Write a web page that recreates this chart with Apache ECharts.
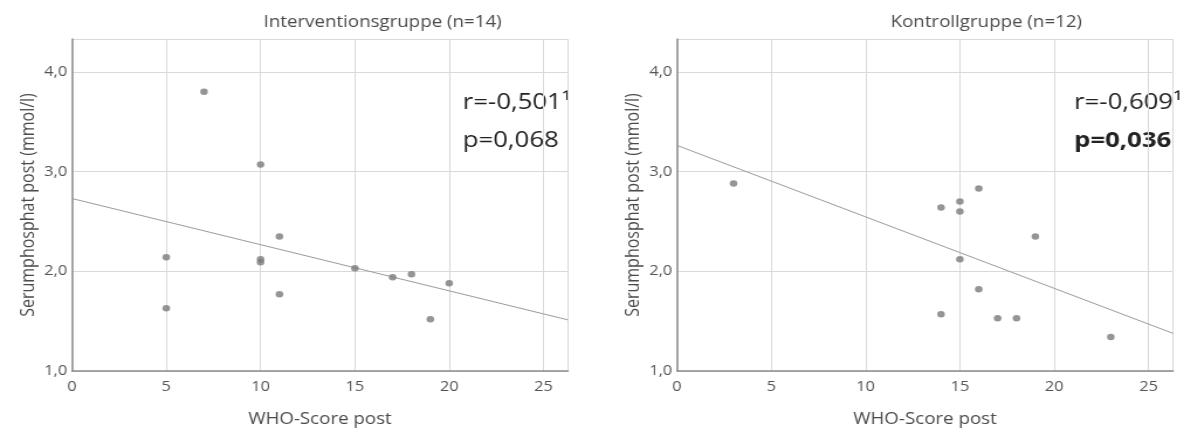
<!DOCTYPE html>
<html>
<head>
<meta charset="utf-8">
<script src="https://cdn.jsdelivr.net/npm/echarts@6/dist/echarts.min.js"></script>
<style>
html,body{margin:0;padding:0;background:#fff;overflow:hidden}
#wrap{width:1191px;height:432px;overflow:hidden}
#c{width:1018px;height:432px;transform:scaleX(1.17);transform-origin:0 0}
</style>
</head>
<body>
<div id="wrap"><div id="c"></div></div>
<script>
// Data
var titleLeft = 'Interventionsgruppe (n=14)';
var titleRight = 'Kontrollgruppe (n=12)';
var xName = 'WHO-Score post';
var yName = 'Serumphosphat post (mmol/l)';

var interventionWHO = [5, 5, 7, 10, 10, 10, 11, 11, 15, 17, 18, 19, 20];
var interventionPhos = [2.14, 1.63, 3.80, 3.07, 2.12, 2.09, 2.35, 1.77, 2.03, 1.94, 1.97, 1.52, 1.88];
var interventionFit = { intercept: 2.73, slope: -0.0463 };
var interventionStats = ['r=-0,501\u00B9', 'p=0,068'];

var controlWHO = [3, 14, 15, 15, 16, 19, 15, 16, 14, 17, 18, 23];
var controlPhos = [2.88, 2.64, 2.70, 2.60, 2.83, 2.35, 2.12, 1.82, 1.57, 1.53, 1.53, 1.34];
var controlFit = { intercept: 3.263, slope: -0.0717 };
var controlStats = ['r=-0,609\u00B9', 'p=0,036'];

var xMin = 0, xMax = 26.3, xStep = 5;
var yMin = 1, yMax = 4.33, yStep = 1;

function pairs(xs, ys) { return xs.map(function (x, i) { return [x, ys[i]]; }); }
function fitLine(f) { return [[xMin, f.intercept + f.slope * xMin], [xMax, f.intercept + f.slope * xMax]]; }

var FONT = '"Open Sans", sans-serif';
var TXT = '#4a4a4a';

function xAxis(gi) {
  return {
    type: 'value', gridIndex: gi, min: xMin, max: xMax, interval: xStep,
    name: xName, nameLocation: 'middle', nameGap: 40,
    nameTextStyle: { fontFamily: FONT, fontSize: 16, color: TXT },
    axisLine: { show: true, lineStyle: { color: '#8c8c8c', width: 1.5 } },
    axisTick: { show: false },
    axisLabel: { margin: 9, fontFamily: FONT, fontSize: 14, color: '#555',
      formatter: function (v) { return (Math.abs(v / xStep - Math.round(v / xStep)) < 1e-6) ? String(v) : ''; } },
    splitLine: { show: true, lineStyle: { color: '#d9d9d9', width: 1 } }
  };
}
function yAxis(gi) {
  return {
    type: 'value', gridIndex: gi, min: yMin, max: yMax, interval: yStep,
    name: yName, nameLocation: 'middle', nameGap: 29,
    nameTextStyle: { fontFamily: FONT, fontSize: 16, color: TXT },
    axisLine: { show: true, lineStyle: { color: '#8c8c8c', width: 1.5 } },
    axisTick: { show: false },
    axisLabel: { margin: 4, fontFamily: FONT, fontSize: 14, color: '#555',
      formatter: function (v) { return (Math.abs(v - Math.round(v)) < 1e-6) ? v.toFixed(1).replace('.', ',') : ''; } },
    splitLine: { show: true, lineStyle: { color: '#d9d9d9', width: 1 } }
  };
}

function scatter(gi, xs, ys) {
  return { type: 'scatter', xAxisIndex: gi, yAxisIndex: gi, data: pairs(xs, ys),
    symbolSize: 6.5, itemStyle: { color: '#7a7a7a' }, z: 3 };
}
function fit(gi, f) {
  return { type: 'line', xAxisIndex: gi, yAxisIndex: gi, data: fitLine(f), showSymbol: false,
    lineStyle: { color: '#9a9a9a', width: 1 }, silent: true, z: 2 };
}

var chart = echarts.init(document.getElementById('c'), null, { renderer: 'canvas' });
chart.setOption({
  animation: false,
  title: [
    { text: titleLeft, left: 322, top: 9, textAlign: 'center',
      textStyle: { fontFamily: FONT, fontSize: 16, fontWeight: 'normal', color: TXT } },
    { text: titleRight, left: 838, top: 9, textAlign: 'center',
      textStyle: { fontFamily: FONT, fontSize: 16, fontWeight: 'normal', color: TXT } }
  ],
  grid: [
    { left: 61.5, top: 39, width: 424, height: 334 },
    { left: 578.6, top: 39, width: 424, height: 334 }
  ],
  xAxis: [xAxis(0), xAxis(1)],
  yAxis: [yAxis(0), yAxis(1)],
  series: [
    fit(0, interventionFit), scatter(0, interventionWHO, interventionPhos),
    fit(1, controlFit), scatter(1, controlWHO, controlPhos)
  ],
  graphic: [
    { type: 'text', left: 395.5, top: 92, style: { text: interventionStats[0], font: '22px ' + FONT, fill: '#222' } },
    { type: 'text', left: 395.5, top: 130, style: { text: interventionStats[1], font: '22px ' + FONT, fill: '#222' } },
    { type: 'text', left: 918, top: 92, style: { text: controlStats[0], font: '22px ' + FONT, fill: '#222' } },
    { type: 'text', left: 918, top: 130, style: { text: controlStats[1], font: 'bold 22px ' + FONT, fill: '#222' } }
  ]
});
</script>
</body>
</html>
